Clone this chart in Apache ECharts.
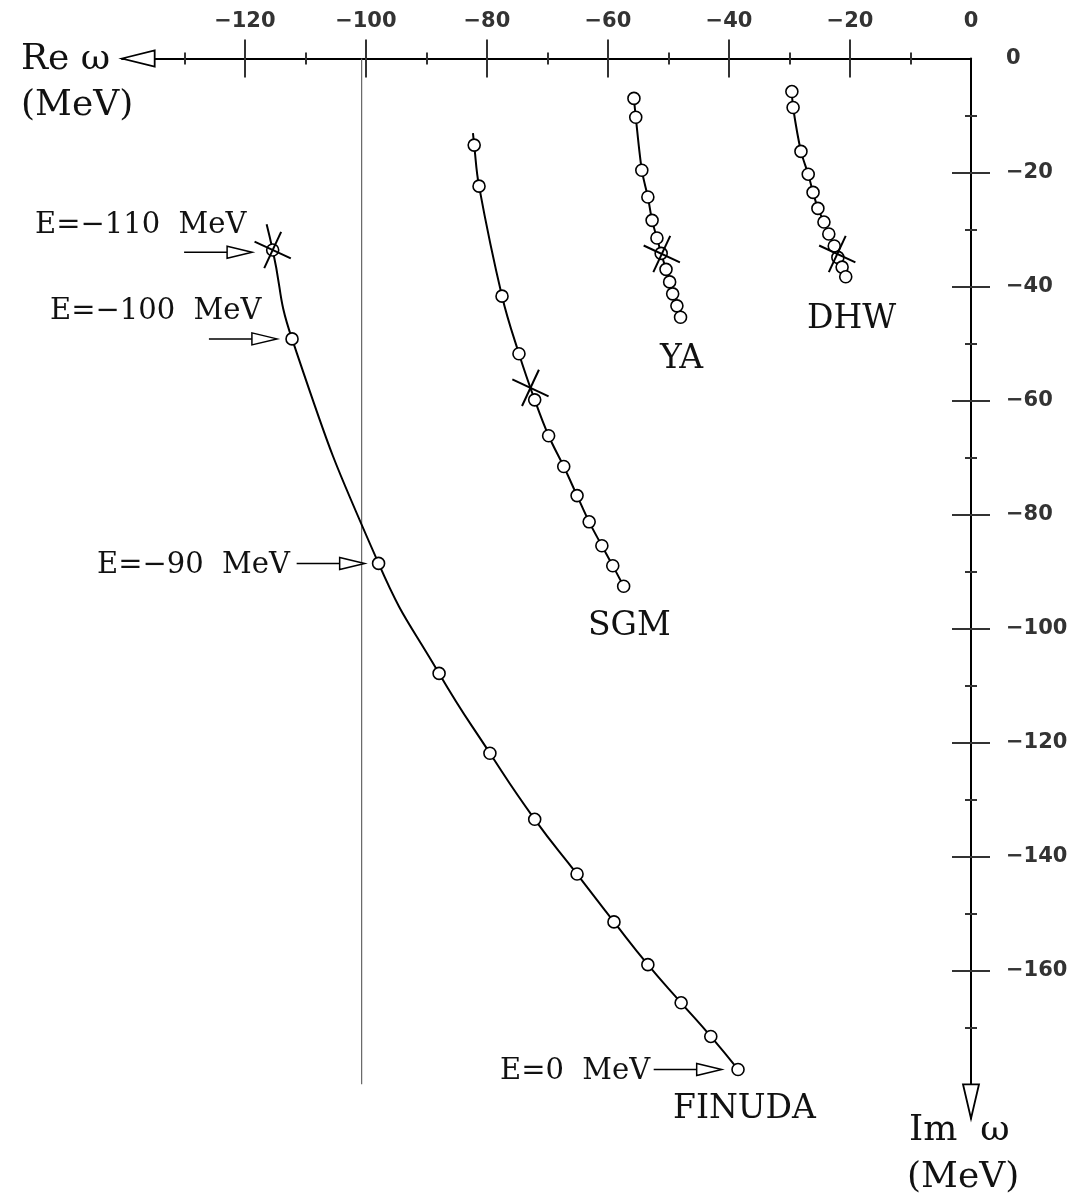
<!DOCTYPE html>
<html>
<head>
<meta charset="utf-8">
<script src="https://cdn.jsdelivr.net/npm/echarts@6/dist/echarts.min.js"></script>
<style>html,body{margin:0;padding:0;background:#fff}#c{width:1074px;height:1202px}</style>
</head>
<body>
<div id="c"></div>
<script>
// ---- tick values ----
const reLabelValues = [-120, -100, -80, -60, -40, -20, 0];
const reMajorTicks = [-120, -100, -80, -60, -40, -20];
const reMinorTicks = [-130, -110, -90, -70, -50, -30, -10];
const imLabelValues = [0, -20, -40, -60, -80, -100, -120, -140, -160];
const imMajorTicks = [-20, -40, -60, -80, -100, -120, -140, -160];
const imMinorTicks = [-10, -30, -50, -70, -90, -110, -130, -150, -170];

// ---- series values [Re, Im] (MeV) ----
const finudaLineStart = [[-116.4, -29.1]];
const finudaPoints = [
  [-115.4, -33.6], [-112.2, -49.2], [-97.9, -88.6], [-87.9, -107.9],
  [-79.5, -121.9], [-72.1, -133.5], [-65.1, -143.1], [-59.0, -151.5],
  [-53.4, -159.0], [-47.9, -165.7], [-43.0, -171.6], [-38.5, -177.4]
];
const sgmLineStart = [[-82.3, -13.1]];
const sgmPoints = [
  [-82.1, -15.2], [-81.3, -22.4], [-77.5, -41.7], [-74.7, -51.8],
  [-72.1, -59.9], [-69.8, -66.2], [-67.3, -71.6], [-65.1, -76.7],
  [-63.1, -81.3], [-61.0, -85.5], [-59.2, -89.0], [-57.4, -92.6]
];
const yaPoints = [
  [-55.7, -7.0], [-55.4, -10.3], [-54.4, -19.6], [-53.4, -24.3],
  [-52.7, -28.4], [-51.9, -31.5], [-51.2, -34.2], [-50.4, -37.0],
  [-49.8, -39.2], [-49.3, -41.3], [-48.6, -43.4], [-48.0, -45.4]
];
const dhwPoints = [
  [-29.6, -5.8], [-29.4, -8.6], [-28.1, -16.3], [-26.9, -20.3],
  [-26.1, -23.5], [-25.3, -26.3], [-24.3, -28.7], [-23.5, -30.8],
  [-22.6, -32.9], [-22.0, -34.9], [-21.3, -36.6], [-20.7, -38.3]
];
const starPoints = [[-115.4, -33.6], [-72.8, -57.8], [-51.1, -34.3], [-22.1, -34.3]];
const thresholdRe = [-100.7];
const thresholdImRange = [0, -180];

// annotation arrows: tip location in data coords
const energyArrowTips = [[-118.8, -34.0], [-114.7, -49.2], [-100.2, -88.6], [-41.2, -177.4]];

// ---- axis geometry ----
const X_MIN = -140.3, X_MAX = 0, X_ARROW_BASE = -134.9;
const Y_MIN = -186, Y_MAX = 0, Y_ARROW_BASE = -180;

const minus = v => String(v).replace('-', '\u2212');
const serif = '"DejaVu Serif", "Liberation Serif", serif';

const chart = echarts.init(document.getElementById('c'), null, {renderer: 'canvas'});

function baseX(extra) {
  return Object.assign({
    type: 'value', position: 'top', min: X_MIN, max: X_MAX,
    splitLine: {show: false}, axisLine: {show: false},
    axisTick: {show: false}, axisLabel: {show: false}, minorTick: {show: false}
  }, extra);
}
function baseY(extra) {
  return Object.assign({
    type: 'value', position: 'right', min: Y_MIN, max: Y_MAX,
    splitLine: {show: false}, axisLine: {show: false},
    axisTick: {show: false}, axisLabel: {show: false}, minorTick: {show: false}
  }, extra);
}
const tickStyle = {color: '#333', width: 2};
const labelStyle = {fontFamily: '"DejaVu Sans", sans-serif', fontSize: 21, fontWeight: 'bold', color: '#333', formatter: minus};
function tickAxes(base, majors, minors) {
  return [
    base({axisTick: {show: true, inside: false, length: 19, customValues: majors, lineStyle: tickStyle}}),
    base({axisTick: {show: true, inside: true, length: 19, customValues: majors, lineStyle: tickStyle}}),
    base({axisTick: {show: true, inside: false, length: 6, customValues: minors, lineStyle: tickStyle}}),
    base({axisTick: {show: true, inside: true, length: 6, customValues: minors, lineStyle: tickStyle}})
  ];
}

const option = {
  backgroundColor: '#fff',
  animation: false,
  grid: {left: 122, right: 103, top: 58.5, bottom: 83.5, outerBoundsMode: 'none'},
  xAxis: [
    baseX({axisLine: {show: true, onZero: false, lineStyle: {color: '#000', width: 2}},
           axisLabel: Object.assign({show: true, margin: 26, customValues: reLabelValues}, labelStyle)})
  ].concat(tickAxes(baseX, reMajorTicks, reMinorTicks)),
  yAxis: [
    baseY({axisLine: {show: true, onZero: false, lineStyle: {color: '#000', width: 2}},
           axisLabel: Object.assign({show: true, margin: 35, align: 'left', customValues: imLabelValues}, labelStyle)})
  ].concat(tickAxes(baseY, imMajorTicks, imMinorTicks)),
  series: [
    // threshold vertical line
    {type: 'line', data: thresholdImRange.map(v => [thresholdRe[0], v]), showSymbol: false, silent: true,
     lineStyle: {color: '#666', width: 1.2}, z: 1},
    // curves
    {type: 'line', data: finudaLineStart.concat(finudaPoints), smooth: 0.5, showSymbol: false,
     lineStyle: {color: '#000', width: 2}, z: 2},
    {type: 'line', data: sgmLineStart.concat(sgmPoints), smooth: 0.4, showSymbol: false,
     lineStyle: {color: '#000', width: 2}, z: 2},
    {type: 'line', data: yaPoints, smooth: 0.3, showSymbol: false, lineStyle: {color: '#000', width: 2}, z: 2},
    {type: 'line', data: dhwPoints, smooth: 0.3, showSymbol: false, lineStyle: {color: '#000', width: 2}, z: 2},
    // open circles
    ...[finudaPoints, sgmPoints, yaPoints, dhwPoints].map(d => ({
      type: 'scatter', data: d, symbol: 'circle', symbolSize: 12,
      itemStyle: {color: '#fff', opacity: 1, borderColor: '#000', borderWidth: 1.6}, z: 3
    })),
    // stars (crosses)
    {type: 'custom', data: starPoints, z: 4, clip: false,
     renderItem: function (params, api) {
       const c = api.coord([api.value(0), api.value(1)]);
       const L = 20;
       const arms = [25, 115].map(a => {
         const r = a * Math.PI / 180, dx = Math.cos(r) * L, dy = Math.sin(r) * L;
         return {type: 'line', shape: {x1: c[0] - dx, y1: c[1] - dy, x2: c[0] + dx, y2: c[1] + dy},
                 style: {stroke: '#000', lineWidth: 2}};
       });
       return {type: 'group', children: arms};
     }},
    // energy annotation arrows
    {type: 'custom', data: energyArrowTips, z: 4, clip: false,
     renderItem: function (params, api) {
       const c = api.coord([api.value(0), api.value(1)]);
       return {type: 'group', children: [
         {type: 'line', shape: {x1: c[0] - 68, y1: c[1], x2: c[0] - 25, y2: c[1]}, style: {stroke: '#000', lineWidth: 1.5}},
         {type: 'polygon', shape: {points: [[c[0], c[1]], [c[0] - 25, c[1] - 6], [c[0] - 25, c[1] + 6]]},
          style: {fill: '#fff', stroke: '#000', lineWidth: 1.5}}
       ]};
     }},
    // axis arrowheads
    {type: 'custom', data: [[0, 0]], z: 5, clip: false,
     renderItem: function (params, api) {
       const tx = api.coord([X_MIN, 0]), bx = api.coord([X_ARROW_BASE, 0]);
       const ty = api.coord([0, Y_MIN]), by = api.coord([0, Y_ARROW_BASE]);
       return {type: 'group', children: [
         {type: 'polygon', shape: {points: [[tx[0], tx[1]], [bx[0], bx[1] - 8], [bx[0], bx[1] + 8]]},
          style: {fill: '#fff', stroke: '#000', lineWidth: 1.8}},
         {type: 'polygon', shape: {points: [[ty[0], ty[1]], [by[0] - 8, by[1]], [by[0] + 8, by[1]]]},
          style: {fill: '#fff', stroke: '#000', lineWidth: 1.8}}
       ]};
     }}
  ],
  graphic: [
    {type: 'text', left: 21, top: 42, style: {text: 'Re \u03c9', font: '36px ' + serif, fill: '#111'}},
    {type: 'text', left: 21, top: 88, style: {text: '(MeV)', font: '36px ' + serif, fill: '#111'}},
    {type: 'text', left: 909, top: 1113, style: {text: 'Im  \u03c9', font: '36px ' + serif, fill: '#111'}},
    {type: 'text', left: 907, top: 1160, style: {text: '(MeV)', font: '36px ' + serif, fill: '#111'}},
    {type: 'text', left: 35, top: 211, style: {text: 'E=\u2212110  MeV', font: '29px ' + serif, fill: '#111'}},
    {type: 'text', left: 50, top: 297, style: {text: 'E=\u2212100  MeV', font: '29px ' + serif, fill: '#111'}},
    {type: 'text', left: 97, top: 551, style: {text: 'E=\u221290  MeV', font: '29px ' + serif, fill: '#111'}},
    {type: 'text', left: 500, top: 1057, style: {text: 'E=0  MeV', font: '29px ' + serif, fill: '#111'}},
    {type: 'text', left: 588, top: 610, style: {text: 'SGM', font: '33px ' + serif, fill: '#111'}},
    {type: 'text', left: 660, top: 343, style: {text: 'YA', font: '33px ' + serif, fill: '#111'}},
    {type: 'text', left: 807, top: 303, style: {text: 'DHW', font: '33px ' + serif, fill: '#111'}},
    {type: 'text', left: 673, top: 1093, style: {text: 'FINUDA', font: '33px ' + serif, fill: '#111'}}
  ]
};
chart.setOption(option);
</script>
</body>
</html>
